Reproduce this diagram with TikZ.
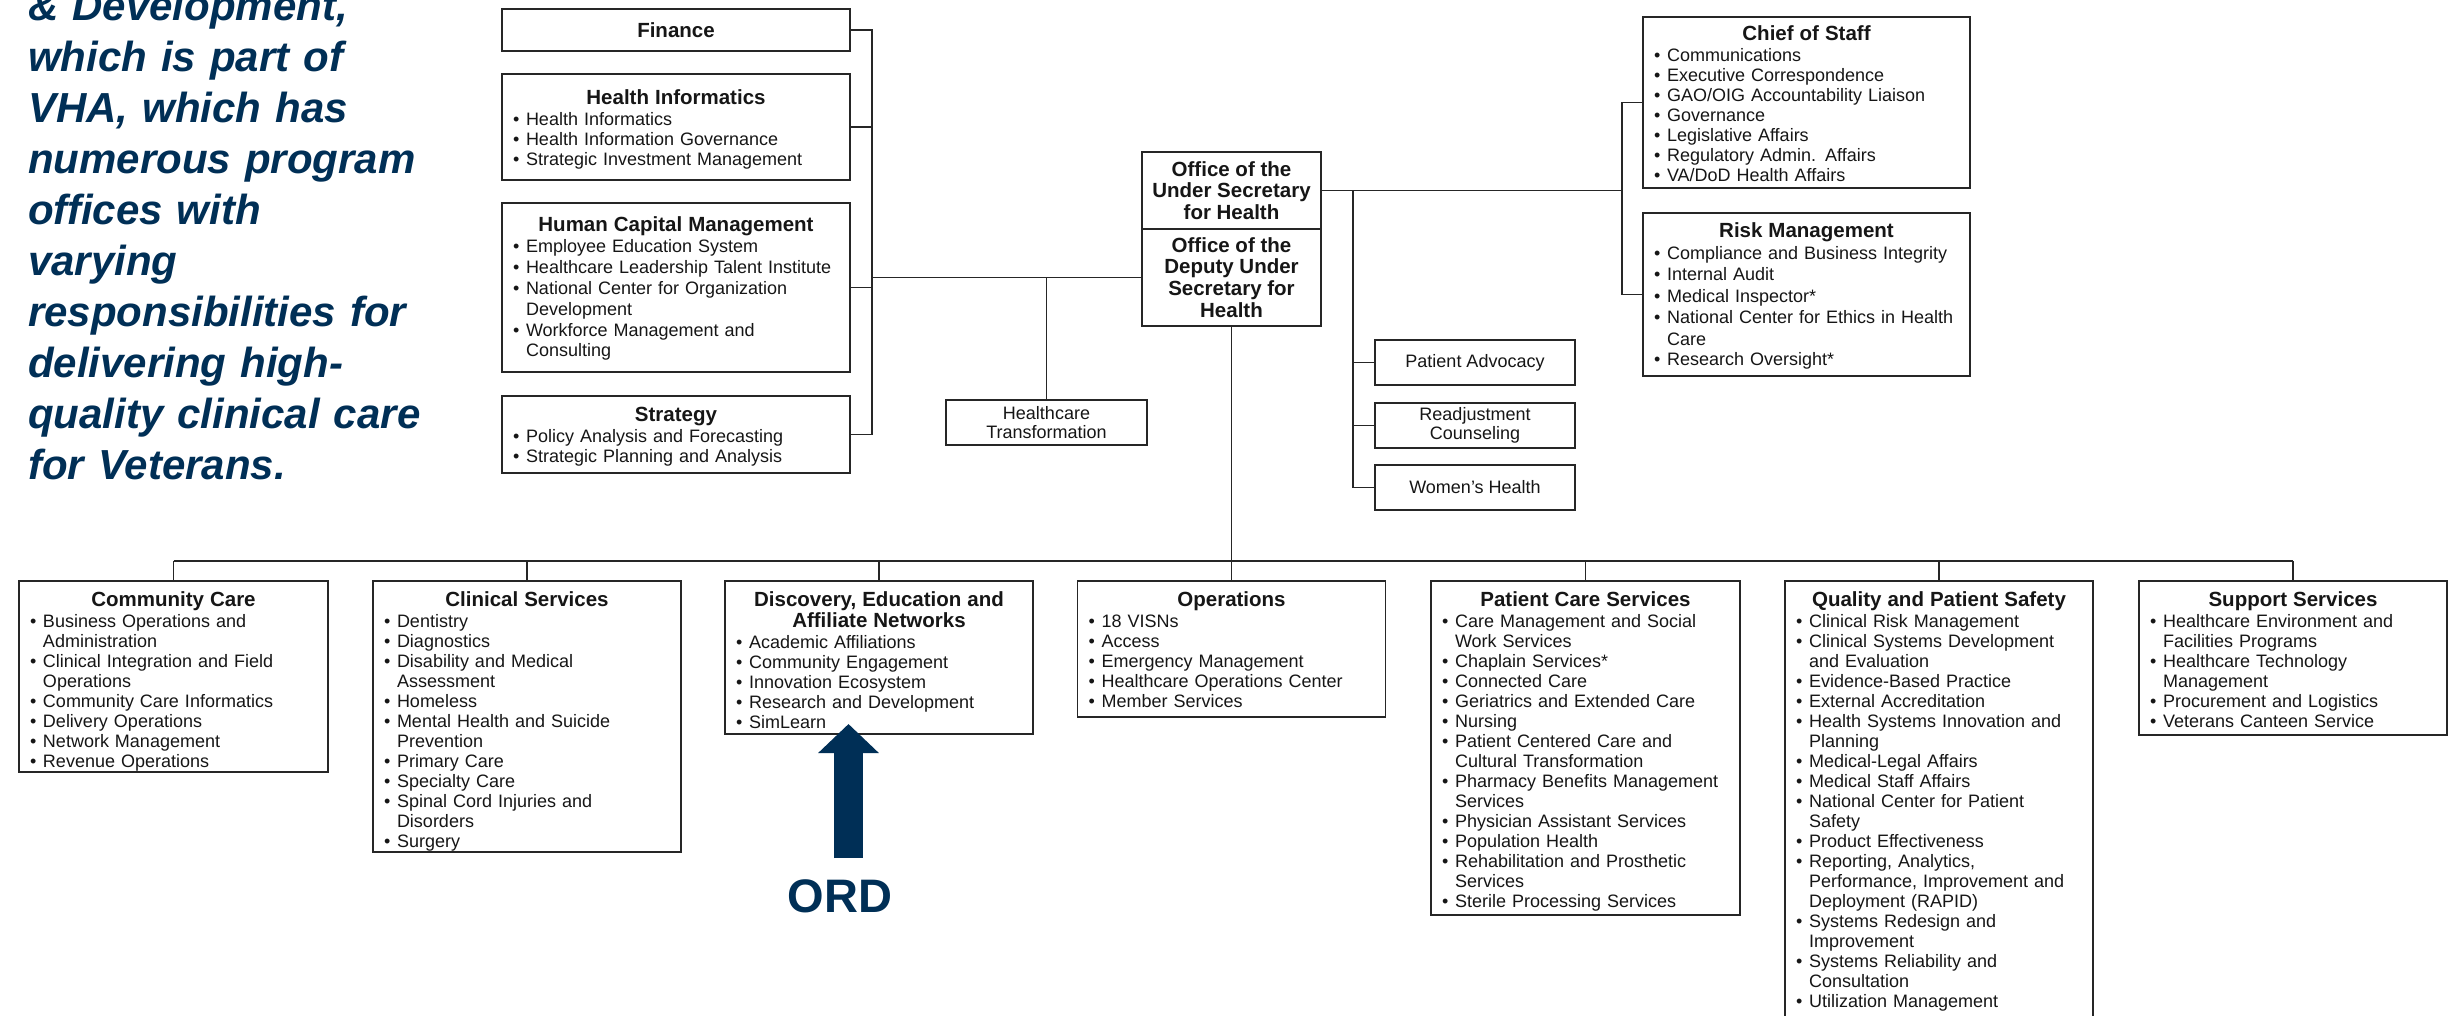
\documentclass[tikz,border=0pt]{standalone}
\usepackage{fontspec}
\setmainfont{Liberation Sans}
\usetikzlibrary{arrows.meta}
\definecolor{navy}{RGB}{0,47,86}
\definecolor{linec}{RGB}{38,38,38}
\definecolor{textc}{RGB}{22,22,22}
\newcommand\bodyfont{\fontsize{18}{20}\selectfont}
\newcommand\titlefont{\fontsize{20.5}{21}\selectfont\bfseries}
\newcommand\ttl[1]{{\titlefont\centering #1\par}\vspace{1pt}}
\newcommand\itm[1]{\par\noindent\makebox[13pt][l]{•}\mbox{#1}}
\newcommand\itmm[2]{\itm{#1}\par\noindent\hspace*{13pt}\mbox{#2}}
\newcommand\itmmm[3]{\itmm{#1}{#2}\par\noindent\hspace*{13pt}\mbox{#3}}
\tikzset{
  box/.style={draw=linec, line width=1.8pt, inner sep=0pt, outer sep=0pt, rectangle, anchor=north west, text=textc},
  btxt/.style={anchor=base west, inner sep=0pt, outer sep=0pt, text width=#1, align=left, font=\bodyfont, text=textc},
  conn/.style={draw=linec, line width=1.8pt},
  intro/.style={anchor=base west, inner sep=0pt, text width=520pt, align=left, text=navy,
    font=\fontsize{42}{51}\selectfont\bfseries\itshape},
  ordarrow/.style={draw=navy, line width=29pt, -{Triangle[width=59pt,length=29pt]}},
}
\begin{document}
\begin{tikzpicture}[x=1pt,y=-1pt]
\useasboundingbox (0,0) rectangle (2450,1015);
\clip (0,0) rectangle (2450,1015);
\fill[white] (0,0) rectangle (2450,1015);

% intro text
\node[intro] (introtext) at (28,20) {\& Development,\\which is part of\\VHA, which has\\numerous program\\offices with\\varying\\responsibilities for\\delivering high-\\quality clinical care\\for Veterans.};

% top-left column
\node[box, minimum width=348pt, minimum height=42pt, font=\titlefont] (fin) at (502,9) {Finance};
\node[box, minimum width=348pt, minimum height=106pt] (hi) at (502,74) {};
\node[btxt=326pt] (hit) at (513,104) {\ttl{Health Informatics}\itm{Health Informatics}\itm{Health Information Governance}\itm{Strategic Investment Management}};
\node[box, minimum width=348pt, minimum height=169pt] (hcm) at (502,203) {};
\node[btxt=326pt] (hcmt) at (513,231) {\ttl{Human Capital Management}\fontsize{18}{20.8}\selectfont\itm{Employee Education System}\itm{Healthcare Leadership Talent Institute}\itmm{National Center for Organization}{Development}\itmm{Workforce Management and}{Consulting}};
\node[box, minimum width=348pt, minimum height=77pt] (strat) at (502,396) {};
\node[btxt=326pt] (stratt) at (513,421) {\ttl{Strategy}\itm{Policy Analysis and Forecasting}\itm{Strategic Planning and Analysis}};

% center
\node[box, minimum width=179pt, minimum height=77pt, align=center, font=\fontsize{20.5}{21.5}\selectfont\bfseries] (ush) at (1142,152) {Office of the\\Under Secretary\\for Health};
\node[box, minimum width=179pt, minimum height=97pt, align=center, font=\fontsize{20.5}{21.7}\selectfont\bfseries] (dush) at (1142,229) {Office of the\\Deputy Under\\Secretary for\\Health};
\node[box, minimum width=201pt, minimum height=45pt, align=center, font=\fontsize{18}{19}\selectfont] (ht) at (946,400) {Healthcare\\Transformation};

% right small boxes
\node[box, minimum width=200pt, minimum height=45pt, font=\bodyfont] (pa) at (1375,340) {Patient Advocacy};
\node[box, minimum width=200pt, minimum height=45pt, align=center, font=\fontsize{18}{19}\selectfont] (ra) at (1375,403) {Readjustment\\Counseling};
\node[box, minimum width=200pt, minimum height=45pt, font=\bodyfont] (wh) at (1375,465) {Women's Health};

% right column
\node[box, minimum width=327pt, minimum height=171pt] (cos) at (1643,17) {};
\node[btxt=305pt] (cost) at (1654,40) {\ttl{Chief of Staff}\itm{Communications}\itm{Executive Correspondence}\itm{GAO/OIG Accountability Liaison}\itm{Governance}\itm{Legislative Affairs}\itm{Regulatory Admin. Affairs}\itm{VA/DoD Health Affairs}};
\node[box, minimum width=327pt, minimum height=163pt] (risk) at (1643,213) {};
\node[btxt=305pt] (riskt) at (1654,237) {\ttl{Risk Management}\fontsize{18}{21.4}\selectfont\itm{Compliance and Business Integrity}\itm{Internal Audit}\itm{Medical Inspector*}\itmm{National Center for Ethics in Health}{Care}\itm{Research Oversight*}};

% bottom row
\node[box, minimum width=309pt, minimum height=191pt] (cc) at (19,581) {};
\node[btxt=287pt] (cct) at (30,606) {\ttl{Community Care}\itmm{Business Operations and}{Administration}\itmm{Clinical Integration and Field}{Operations}\itm{Community Care Informatics}\itm{Delivery Operations}\itm{Network Management}\itm{Revenue Operations}};
\node[box, minimum width=308pt, minimum height=271pt] (cs) at (373,581) {};
\node[btxt=286pt] (cst) at (384,606) {\ttl{Clinical Services}\itm{Dentistry}\itm{Diagnostics}\itmm{Disability and Medical}{Assessment}\itm{Homeless}\itmm{Mental Health and Suicide}{Prevention}\itm{Primary Care}\itm{Specialty Care}\itmm{Spinal Cord Injuries and}{Disorders}\itm{Surgery}};
\node[box, minimum width=308pt, minimum height=153pt] (dean) at (725,581) {};
\node[btxt=286pt] (deant) at (736,606) {\ttl{Discovery, Education and\\Affiliate Networks}\itm{Academic Affiliations}\itm{Community Engagement}\itm{Innovation Ecosystem}\itm{Research and Development}\itm{SimLearn}};
\node[box, minimum width=308pt, minimum height=136pt] (ops) at (1077.5,581) {};
\node[btxt=286pt] (opst) at (1088.5,606) {\ttl{Operations}\itm{18 VISNs}\itm{Access}\itm{Emergency Management}\itm{Healthcare Operations Center}\itm{Member Services}};
\node[box, minimum width=309pt, minimum height=334pt] (pcs) at (1431,581) {};
\node[btxt=287pt] (pcst) at (1442,606) {\ttl{Patient Care Services}\itmm{Care Management and Social}{Work Services}\itm{Chaplain Services*}\itm{Connected Care}\itm{Geriatrics and Extended Care}\itm{Nursing}\itmm{Patient Centered Care and}{Cultural Transformation}\itmm{Pharmacy Benefits Management}{Services}\itm{Physician Assistant Services}\itm{Population Health}\itmm{Rehabilitation and Prosthetic}{Services}\itm{Sterile Processing Services}};
\node[box, minimum width=308pt, minimum height=460pt] (qps) at (1785,581) {};
\node[btxt=286pt] (qpst) at (1796,606) {\ttl{Quality and Patient Safety}\itm{Clinical Risk Management}\itmm{Clinical Systems Development}{and Evaluation}\itm{Evidence-Based Practice}\itm{External Accreditation}\itmm{Health Systems Innovation and}{Planning}\itm{Medical-Legal Affairs}\itm{Medical Staff Affairs}\itmm{National Center for Patient}{Safety}\itm{Product Effectiveness}\itmmm{Reporting, Analytics,}{Performance, Improvement and}{Deployment (RAPID)}\itmm{Systems Redesign and}{Improvement}\itmm{Systems Reliability and}{Consultation}\itm{Utilization Management}};
\node[box, minimum width=308pt, minimum height=154pt] (ss) at (2139,581) {};
\node[btxt=286pt] (sst) at (2150,606) {\ttl{Support Services}\itmm{Healthcare Environment and}{Facilities Programs}\itmm{Healthcare Technology}{Management}\itm{Procurement and Logistics}\itm{Veterans Canteen Service}};

% bus coordinates
\coordinate (lbus) at (872,0);
\coordinate (rbus) at (1622,0);
\coordinate (sbus) at (1353,0);
\coordinate (hbus) at (0,561);

% connectors
\draw[conn] (fin.east) -- (fin.east -| lbus) -- (strat.east -| lbus) -- (strat.east);
\draw[conn] (hi.east) -- (hi.east -| lbus);
\draw[conn] (hcm.east) -- (hcm.east -| lbus);
\draw[conn] (dush.west -| lbus) -- (dush.west);
\draw[conn] (ht.north) -- (ht.north |- dush.west);
\draw[conn] (ush.east) -- (ush.east -| rbus);
\draw[conn] (cos.west) -- (cos.west -| rbus) -- (risk.west -| rbus) -- (risk.west);
\draw[conn] (ush.east -| sbus) -- (wh.west -| sbus) -- (wh.west);
\draw[conn] (pa.west) -- (pa.west -| sbus);
\draw[conn] (ra.west) -- (ra.west -| sbus);
\draw[conn] (dush.south) -- (dush.south |- hbus);
\draw[conn] (cc.north |- hbus) -- (ss.north |- hbus);
\foreach \b in {cc,cs,dean,ops,pcs,qps,ss}{\draw[conn] (\b.north) -- (\b.north |- hbus);}

% ORD arrow
\node[anchor=base, inner sep=0pt, text=navy, font=\fontsize{47}{47}\selectfont\bfseries] (ord) at (840,912) {ORD};
\coordinate (atail) at (848.5,858);
\coordinate (atip) at (848.5,724);
\draw[ordarrow] (atail) -- (atip);
\end{tikzpicture}
\end{document}
